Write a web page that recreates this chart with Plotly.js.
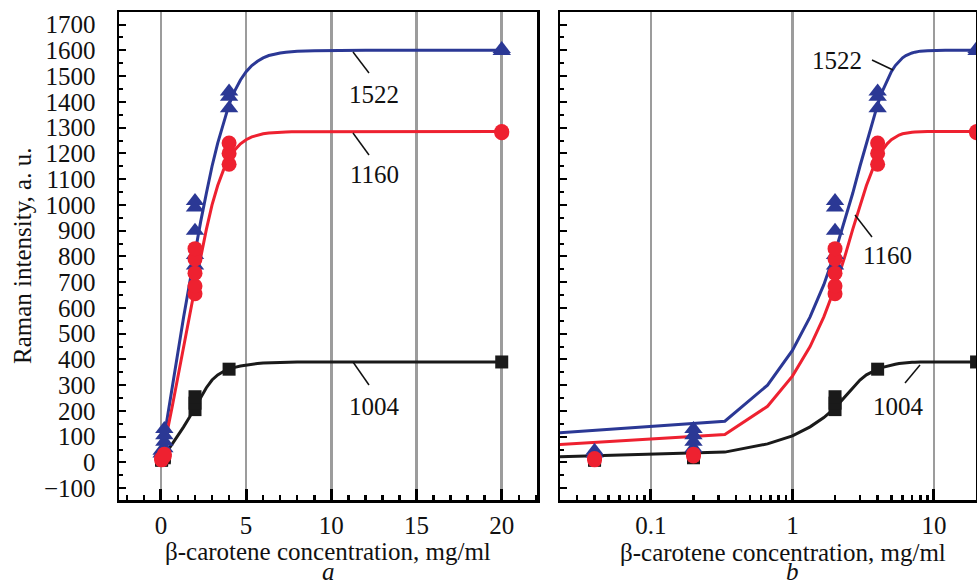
<!DOCTYPE html>
<html><head><meta charset="utf-8">
<script src="https://cdn.plot.ly/plotly-3.0.1.min.js"></script>
<style>html,body{margin:0;padding:0;background:#fff}#chart{width:977px;height:586px}</style>
</head><body><div id="chart"></div>
<script>
// Fitted curves (sampled every 1/3 mg/ml, as in the original)
const fitX    = [0, 0.333, 0.667, 1, 1.333, 1.667, 2, 2.333, 2.667, 3, 3.333, 3.667, 4, 4.333, 4.667, 5, 5.333, 5.667, 6, 6.333, 6.667, 7, 7.333, 7.667, 8, 9, 10, 12, 15, 20];
const fit1522 = [20, 160, 300, 435, 565, 690, 815, 935, 1045, 1150, 1240, 1320, 1390, 1443, 1485, 1517, 1541, 1558, 1571, 1580, 1586, 1590, 1593, 1595, 1597, 1599, 1600, 1600, 1600, 1600];
const fit1160 = [15, 108, 218, 335, 450, 565, 680, 795, 905, 1000, 1075, 1135, 1180, 1213, 1237, 1253, 1264, 1271, 1276, 1279, 1281, 1282, 1283, 1284, 1284, 1285, 1285, 1285, 1285, 1285];
const fit1004 = [15, 40, 72, 103, 138, 174, 212, 252, 290, 320, 340, 353, 362, 369, 374, 378, 381, 384, 386, 387, 388, 389, 389, 390, 390, 390, 390, 390, 390, 390];
// first visible curve point on the log panel (x = 0 cannot be drawn there)
const logStartX = 0.02;
const logStartY = [113, 68, 21]; // 1522, 1160, 1004

// Measured points
const ptsX1522 = [0.04, 0.04, 0.2, 0.2, 0.2, 0.2, 2, 2, 2, 2, 2, 4, 4, 4, 20, 20];
const ptsY1522 = [35, 45, 55, 80, 105, 130, 765, 805, 900, 990, 1015, 1375, 1420, 1440, 1598, 1605];
const ptsX1160 = [0.04, 0.04, 0.2, 0.2, 2, 2, 2, 2, 2, 4, 4, 4, 20, 20];
const ptsY1160 = [10, 15, 25, 32, 655, 685, 735, 790, 830, 1158, 1200, 1240, 1280, 1285];
const ptsX1004 = [0.04, 0.04, 0.2, 0.2, 2, 2, 2, 4, 20];
const ptsY1004 = [8, 12, 18, 24, 205, 230, 255, 362, 390];

const bandLabels = ['1522', '1160', '1004'];
const logTickVals = [0.1, 1, 10];
const logTickText = ['0.1', '1', '10'];

const BLUE = '#2b3895', RED = '#ee2130', BLACK = '#1a1a1a';
const FONT = '"Liberation Serif", "Times New Roman", serif';

// pixel -> paper helpers for labels and leader lines
const L = 119, R = 976, T = 12, B = 500;
const px = x => (x - L) / (R - L);
const py = y => (B - y) / (B - T);

const traces = [];
const fits = [fit1522, fit1160, fit1004];
const cols = [BLUE, RED, BLACK];
fits.forEach((f, i) => {
  traces.push({x: fitX, y: f, xaxis: 'x', yaxis: 'y', mode: 'lines', line: {color: cols[i], width: 3}, hoverinfo: 'skip'});
  traces.push({x: [logStartX].concat(fitX.slice(1)), y: [logStartY[i]].concat(f.slice(1)), xaxis: 'x2', yaxis: 'y2', mode: 'lines', line: {color: cols[i], width: 3}, hoverinfo: 'skip'});
});
const pts = [
  {x: ptsX1004, y: ptsY1004, sym: 'square', c: BLACK, s: 13},
  {x: ptsX1522, y: ptsY1522, sym: 'triangle-up', c: BLUE, s: 16},
  {x: ptsX1160, y: ptsY1160, sym: 'circle', c: RED, s: 15}
];
pts.forEach(p => {
  ['x', 'x2'].forEach((xa, k) => {
    traces.push({x: p.x, y: p.y, xaxis: xa, yaxis: k ? 'y2' : 'y', mode: 'markers',
      marker: {symbol: p.sym, color: p.c, size: p.s, line: {width: 0}}});
  });
});

const tickFont = {family: FONT, size: 25, color: '#111'};
const common = {
  showline: true, linewidth: 2.5, linecolor: '#000', mirror: true, zeroline: false,
  ticks: 'inside', tickcolor: '#000', tickfont: tickFont
};
const yRange = [-146, 1749];

const minorLog = [];
[0.01, 0.1, 1, 10].forEach(d => { for (let m = 2; m <= 9; m++) minorLog.push(m * d); });

const layout = {
  width: 977, height: 586, showlegend: false,
  paper_bgcolor: '#fff', plot_bgcolor: '#fff',
  margin: {l: L, r: 977 - R, t: T, b: 586 - B},
  font: {family: FONT, color: '#111'},
  xaxis: Object.assign({}, common, {
    domain: [0, px(537)], range: [-2.46, 22.07], tick0: 0, dtick: 5, anchor: 'y',
    ticklen: 11, tickwidth: 3, showgrid: true, gridcolor: '#9c9c9c', gridwidth: 2.5,
    ticklabelstandoff: 1,
    minor: {dtick: 1, tick0: 0, ticks: 'inside', ticklen: 5, tickwidth: 2.5, tickcolor: '#000', showgrid: false}
  }),
  yaxis: Object.assign({}, common, {
    range: yRange, tick0: 0, dtick: 100, anchor: 'x', ticklen: 7, tickwidth: 2, showgrid: false,
    ticklabelstandoff: 16,
    minor: {dtick: 50, tick0: 0, ticks: 'inside', ticklen: 4, tickwidth: 2, tickcolor: '#000', showgrid: false}
  }),
  xaxis2: Object.assign({}, common, {
    domain: [px(560), 1], type: 'log', range: [Math.log10(0.0228), 1.297], anchor: 'y2',
    tickmode: 'array', tickvals: logTickVals, ticktext: logTickText,
    ticklen: 11, tickwidth: 3, showgrid: true, gridcolor: '#9c9c9c', gridwidth: 2.5,
    ticklabelstandoff: 1,
    minor: {tickmode: 'array', tickvals: minorLog, ticks: 'inside', ticklen: 5, tickwidth: 2.5, tickcolor: '#000', showgrid: false}
  }),
  yaxis2: Object.assign({}, common, {
    range: yRange, tick0: 0, dtick: 100, anchor: 'x2', ticklen: 7, tickwidth: 2, showgrid: false,
    showticklabels: false,
    minor: {dtick: 50, tick0: 0, ticks: 'inside', ticklen: 4, tickwidth: 2, tickcolor: '#000', showgrid: false}
  }),
  annotations: [],
  shapes: []
};

const textFont = {family: FONT, size: 25, color: '#111'};
function addText(text, x, y, opts) {
  layout.annotations.push(Object.assign({text: text, xref: 'paper', yref: 'paper', x: px(x), y: py(y),
    xanchor: 'center', yanchor: 'middle', showarrow: false, font: textFont}, opts || {}));
}
function addLeader(x0, y0, x1, y1) {
  layout.shapes.push({type: 'line', xref: 'paper', yref: 'paper', x0: px(x0), y0: py(y0), x1: px(x1), y1: py(y1),
    line: {color: '#111', width: 1.5}});
}

// band labels, left panel
addText(bandLabels[0], 374, 94); addLeader(353, 52, 369, 73);
addText(bandLabels[1], 374, 175); addLeader(353, 133, 369, 155);
addText(bandLabels[2], 374, 406); addLeader(353, 362, 369, 385);
// band labels, right panel
addText(bandLabels[0], 837, 60); addLeader(872, 60, 893, 70);
addText(bandLabels[1], 887, 255); addLeader(855, 215, 872, 237);
addText(bandLabels[2], 898, 406); addLeader(920, 365, 905, 383);

// axis titles
addText('Raman intensity, a. u.', 22, 256, {textangle: -90});
addText('β-carotene concentration, mg/ml', 328, 551);
addText('β-carotene concentration, mg/ml', 783, 552);
addText('<i>a</i>', 328, 586, {yanchor: 'bottom', borderpad: 0});
addText('<i>b</i>', 792, 586, {yanchor: 'bottom', borderpad: 0});

Plotly.newPlot('chart', traces, layout, {displayModeBar: false, staticPlot: true});
</script>
</body></html>
